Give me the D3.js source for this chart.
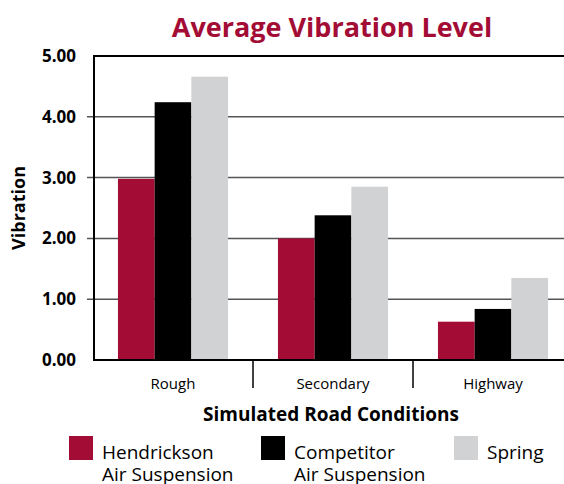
<!DOCTYPE html>
<html lang="en">
<head>
  <meta charset="UTF-8">
  <title>Average Vibration Level</title>
  <script src="https://d3js.org/d3.v7.min.js"></script>
  <style>
    body { margin: 0; background: #fff; }
    svg { display: block; font-family: "Open Sans", "Noto Sans", sans-serif; }
  </style>
</head>
<body>
<div id="chart-container"></div>
<script>
var categories = ["Rough", "Secondary", "Highway"];
var seriesNames = ["Hendrickson Air Suspension", "Competitor Air Suspension", "Spring"];
var hendrickson = [2.98, 2.00, 0.63];
var competitor = [4.24, 2.38, 0.84];
var spring = [4.66, 2.85, 1.35];
var yTicks = [0, 1, 2, 3, 4, 5];
var colors = ["#a30d35", "#000000", "#d1d2d4"];

var width = 564, height = 484;
var plotLeft = 94, plotRight = 574, plotTop = 56, plotBottom = 360;

var svg = d3.select("#chart-container")
  .append("svg")
  .attr("width", width)
  .attr("height", height);

var x = d3.scaleBand()
  .domain(categories)
  .range([plotLeft - 1, plotRight - 1])
  .padding(0);

var x1 = d3.scaleBand()
  .domain(seriesNames)
  .range([0, x.bandwidth()])
  .paddingInner(0)
  .paddingOuter(0.68);

var y = d3.scaleLinear()
  .domain([0, 5])
  .range([plotBottom, plotTop]);

// title
svg.append("text")
  .attr("x", 332)
  .attr("y", 37)
  .attr("text-anchor", "middle")
  .style("font-size", "27px")
  .style("font-weight", "bold")
  .attr("fill", "#a30d35")
  .text("Average Vibration Level");

// gridlines (with little ticks left of the axis)
svg.append("g")
  .selectAll("line")
  .data(yTicks.filter(d => d > 0 && d < 5))
  .join("line")
  .attr("x1", plotLeft - 7)
  .attr("x2", width)
  .attr("y1", d => y(d))
  .attr("y2", d => y(d))
  .attr("stroke", "#555")
  .attr("stroke-width", 1.5);

// bars
var table = categories.map((c, i) => ({
  category: c,
  values: [hendrickson[i], competitor[i], spring[i]]
}));

svg.append("g")
  .selectAll("g")
  .data(table)
  .join("g")
  .attr("transform", d => "translate(" + x(d.category) + ",0)")
  .selectAll("rect")
  .data(d => d.values.map((v, j) => ({ name: seriesNames[j], value: v, color: colors[j] })))
  .join("rect")
  .attr("x", d => x1(d.name))
  .attr("width", x1.bandwidth())
  .attr("y", d => y(d.value))
  .attr("height", d => plotBottom - y(d.value))
  .attr("fill", d => d.color);

// frame: top, left, bottom
svg.append("line")
  .attr("x1", plotLeft).attr("x2", width)
  .attr("y1", y(5)).attr("y2", y(5))
  .attr("stroke", "#000").attr("stroke-width", 2);
svg.append("line")
  .attr("x1", plotLeft).attr("x2", width)
  .attr("y1", y(0)).attr("y2", y(0))
  .attr("stroke", "#000").attr("stroke-width", 2);
svg.append("line")
  .attr("x1", plotLeft).attr("x2", plotLeft)
  .attr("y1", y(5) - 1).attr("y2", y(0) + 1)
  .attr("stroke", "#000").attr("stroke-width", 2);

// y tick labels
svg.append("g")
  .selectAll("text")
  .data(yTicks)
  .join("text")
  .attr("x", 76)
  .attr("y", d => y(d) + 6)
  .attr("text-anchor", "end")
  .style("font-size", "17px")
  .style("font-weight", "bold")
  .text(d => d3.format(".2f")(d));

// category separators
svg.append("g")
  .selectAll("line")
  .data(categories.slice(1))
  .join("line")
  .attr("x1", d => x(d)).attr("x2", d => x(d))
  .attr("y1", plotBottom).attr("y2", plotBottom + 28)
  .attr("stroke", "#000").attr("stroke-width", 1.5);

// category labels
svg.append("g")
  .selectAll("text")
  .data(categories)
  .join("text")
  .attr("x", d => x(d) + x.bandwidth() / 2)
  .attr("y", 389)
  .attr("text-anchor", "middle")
  .style("font-size", "15px")
  .text(d => d);

// axis titles
svg.append("text")
  .attr("x", 331)
  .attr("y", 421)
  .attr("text-anchor", "middle")
  .style("font-size", "19px")
  .style("font-weight", "bold")
  .text("Simulated Road Conditions");

svg.append("text")
  .attr("transform", "translate(25," + ((plotTop + plotBottom) / 2) + ") rotate(-90)")
  .attr("text-anchor", "middle")
  .style("font-size", "18px")
  .style("font-weight", "bold")
  .text("Vibration");

// legend
var legendX = [69, 261, 454];
var legendLines = [["Hendrickson", "Air Suspension"], ["Competitor", "Air Suspension"], ["Spring"]];
var legend = svg.append("g")
  .selectAll("g")
  .data(seriesNames)
  .join("g")
  .attr("transform", (d, i) => "translate(" + legendX[i] + ",436)");

legend.append("rect")
  .attr("width", 24)
  .attr("height", 24)
  .attr("fill", (d, i) => colors[i]);

legend.append("text")
  .style("font-size", "19px")
  .selectAll("tspan")
  .data((d, i) => legendLines[i])
  .join("tspan")
  .attr("x", 33)
  .attr("y", (d, k) => 23 + k * 22)
  .text(d => d);
</script>
</body>
</html>
